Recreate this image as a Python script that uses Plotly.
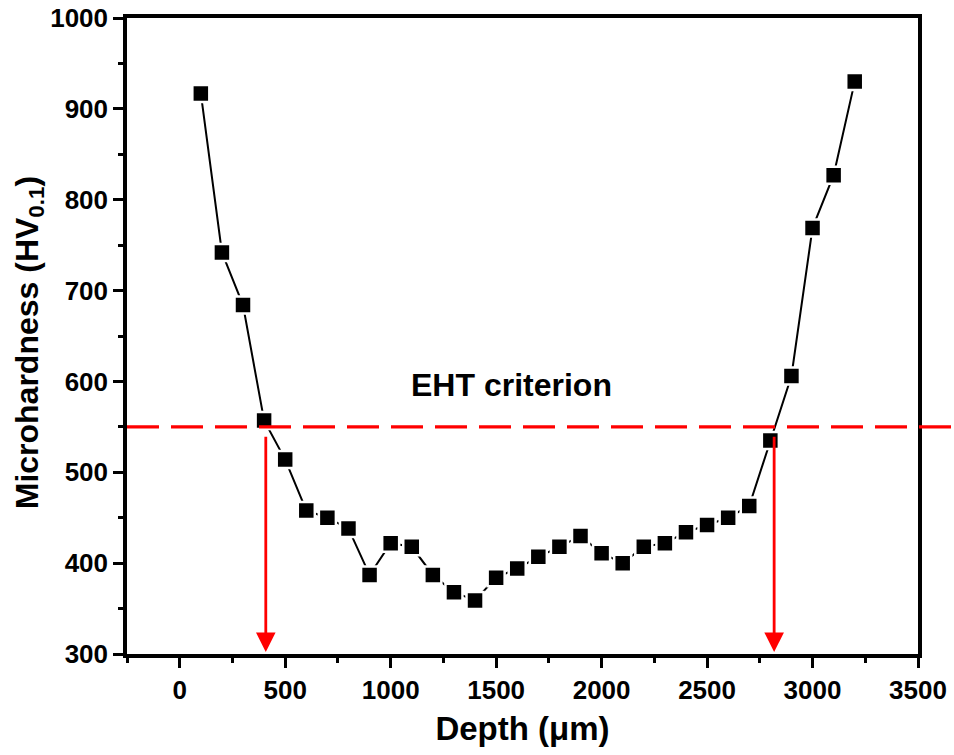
import plotly.graph_objects as go

depth = [100, 200, 300, 400, 500, 600, 700, 800, 900, 1000, 1100, 1200, 1300, 1400, 1500, 1600,
         1700, 1800, 1900, 2000, 2100, 2200, 2300, 2400, 2500, 2600, 2700, 2800, 2900, 3000, 3100, 3200]
hardness = [917, 742, 684, 557, 514, 458, 450, 438, 387, 422, 418, 387, 368, 359, 384, 394,
            407, 418, 430, 411, 400, 418, 422, 434, 442, 450, 463, 535, 606, 769, 827, 930]

criterion = 550
cross_left = 408
cross_right = 2818
x_ticks = [0, 500, 1000, 1500, 2000, 2500, 3000, 3500]
y_ticks = [300, 400, 500, 600, 700, 800, 900, 1000]

FONT = "Arial, Liberation Sans, sans-serif"

fig = go.Figure()
fig.add_trace(go.Scatter(
    x=depth, y=hardness, mode="lines+markers",
    line=dict(color="black", width=2),
    marker=dict(symbol="square", size=17, color="black", line=dict(color="white", width=2.5)),
    cliponaxis=False, showlegend=False,
))

fig.add_shape(type="line", xref="paper", yref="y", x0=0, x1=1.05, y0=criterion, y1=criterion,
              line=dict(color="#FF0000", width=3.3, dash="32px,12px"))

for xc in (cross_left, cross_right):
    fig.add_annotation(x=xc, y=300, ax=xc, ay=criterion, xref="x", yref="y", axref="x", ayref="y",
                       showarrow=True, arrowhead=2, arrowsize=1.4, arrowwidth=2.8,
                       arrowcolor="#FF0000", text=" ", standoff=2)

fig.add_annotation(x=1575, y=596, xref="x", yref="y", text="EHT criterion", showarrow=False,
                   font=dict(family=FONT, size=32, color="black", weight="bold"))

fig.add_annotation(x=-0.124, y=0.49, xref="paper", yref="paper", text="Microhardness (HV<sub>0.1</sub>)",
                   textangle=-90, showarrow=False, xanchor="center", yanchor="middle",
                   font=dict(family=FONT, size=32, color="black", weight="bold"))

axis_common = dict(showline=True, linecolor="black", linewidth=3.5, mirror=True,
                   ticks="outside", ticklen=10, tickwidth=3, tickcolor="black",
                   showgrid=False, zeroline=False, automargin=False,
                   tickfont=dict(family=FONT, size=26, color="black", weight="bold"))

fig.update_xaxes(range=[-250, 3500], tickvals=x_ticks,
                 minor=dict(dtick=250, ticklen=5, tickwidth=3, tickcolor="black", ticks="outside"),
                 title=dict(text="Depth (μm)", font=dict(family=FONT, size=33, color="black", weight="bold"),
                            standoff=14),
                 **axis_common)
fig.update_yaxes(range=[300, 1000], tickvals=y_ticks,
                 minor=dict(dtick=50, ticklen=5, tickwidth=3, tickcolor="black", ticks="outside"),
                 **axis_common)

fig.update_layout(width=954, height=755, margin=dict(l=127, r=36, t=18, b=101),
                  paper_bgcolor="white", plot_bgcolor="white")

fig.write_html("out.html")
